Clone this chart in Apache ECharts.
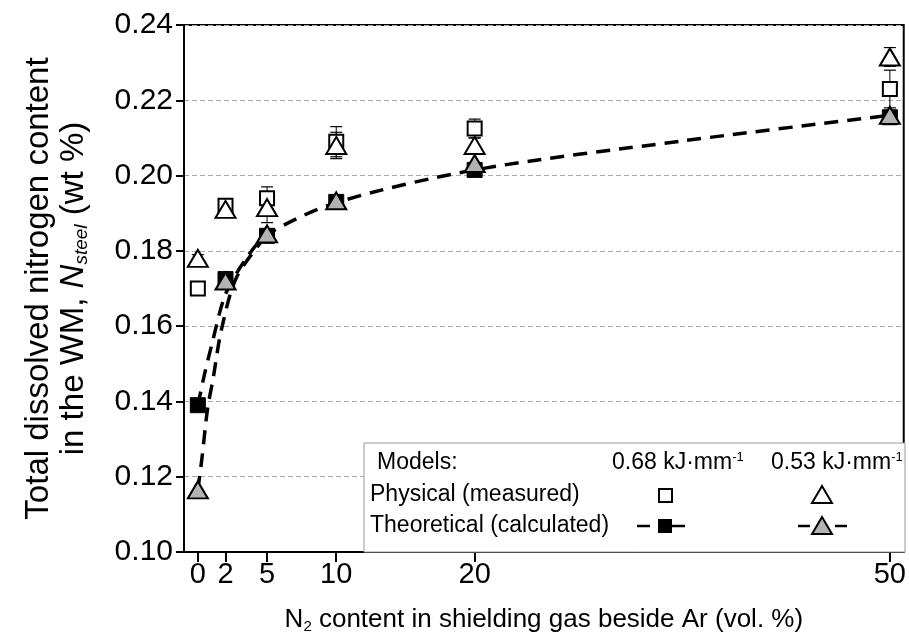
<!DOCTYPE html>
<html>
<head>
<meta charset="utf-8">
<script src="https://cdn.jsdelivr.net/npm/echarts@6/dist/echarts.min.js"></script>
<style>html,body{margin:0;padding:0;background:#fff}#c{width:909px;height:641px}</style>
</head>
<body>
<div id="c"></div>
<script>
// ---- data ----
var xValues = [0, 2, 5, 10, 20, 50];
var xTicks = [0, 2, 5, 10, 20, 50];
var yTicks = [0.10, 0.12, 0.14, 0.16, 0.18, 0.20, 0.22, 0.24];
var physical068 = [0.170, 0.192, 0.194, 0.209, 0.2125, 0.223];
var physical068Err = [0.0008, 0.0008, 0.003, 0.004, 0.0025, 0.005];
var physical053 = [0.178, 0.191, 0.1915, 0.208, 0.208, 0.2315];
var physical053Err = [0.001, 0.001, 0.004, 0.0035, 0.002, 0.0025];
var theoretical068 = [0.139, 0.1725, 0.184, 0.193, 0.2015, 0.2155];
var theoretical053 = [0.1165, 0.172, 0.1845, 0.1933, 0.2032, 0.216];
// dashed fit curves
var curve068X = [0, 0.5, 1, 2, 3.5, 5, 10, 20, 35, 50];
var curve068Y = [0.139, 0.1475, 0.155, 0.1685, 0.178, 0.1843, 0.1928, 0.2015, 0.2092, 0.216];
var curve053X = [0, 0.3, 0.7, 1.1, 1.7, 2.8, 5];
var curve053Y = [0.1165, 0.125, 0.138, 0.146, 0.159, 0.173, 0.1843];

function zip(xs, ys) { return xs.map(function (x, i) { return [x, ys[i]]; }); }
function errData(ys, es) { return xValues.map(function (x, i) { return [x, ys[i] - es[i], ys[i] + es[i]]; }); }

var FONT = 'Liberation Sans, Arial, sans-serif';
var chart = echarts.init(document.getElementById('c'), null, { renderer: 'canvas' });

function errSeries(data) {
  return {
    type: 'custom',
    z: 2,
    silent: true,
    renderItem: function (params, api) {
      var x = api.value(0);
      var lo = api.coord([x, api.value(1)]);
      var hi = api.coord([x, api.value(2)]);
      var w = 6;
      return {
        type: 'group',
        children: [
          { type: 'line', shape: { x1: lo[0], y1: lo[1], x2: hi[0], y2: hi[1] }, style: { stroke: '#000', lineWidth: 1 } },
          { type: 'line', shape: { x1: lo[0] - w, y1: lo[1], x2: lo[0] + w, y2: lo[1] }, style: { stroke: '#000', lineWidth: 1.2 } },
          { type: 'line', shape: { x1: hi[0] - w, y1: hi[1], x2: hi[0] + w, y2: hi[1] }, style: { stroke: '#000', lineWidth: 1.2 } }
        ]
      };
    },
    encode: { x: 0, y: [1, 2] },
    data: data
  };
}

var lx = 364, ly = 443, lw = 541, lh = 109;
var legendFont = 23;
function lt(x, y, text, align) {
  return {
    type: 'text', x: x, y: y, z: 101,
    style: {
      text: text, fontFamily: FONT, fontSize: legendFont, fill: '#000',
      align: align || 'left', verticalAlign: 'middle',
      rich: { sup: { fontSize: 13, fontFamily: FONT, verticalAlign: 'top', padding: [0, 0, 12, 0] } }
    }
  };
}
function dash(x1, x2, y) {
  return { type: 'line', z: 101, shape: { x1: x1, y1: y, x2: x2, y2: y }, style: { stroke: '#000', lineWidth: 2.5 } };
}

var option = {
  animation: false,
  backgroundColor: '#fff',
  grid: { left: 184, right: 4, top: 25, bottom: 89, show: true, borderColor: '#000', borderWidth: 2, containLabel: false },
  xAxis: {
    type: 'value', min: -1, max: 51,
    name: '{n|N}{s|2} content in shielding gas beside Ar (vol. %)',
    nameLocation: 'middle', nameGap: 53,
    nameTextStyle: {
      fontFamily: FONT, fontSize: 26, color: '#000',
      rich: { n: { fontFamily: FONT, fontSize: 26 }, s: { fontFamily: FONT, fontSize: 15, verticalAlign: 'bottom', padding: [14, 0, 0, 0] } }
    },
    axisLine: { onZero: false, lineStyle: { color: '#000', width: 2 } },
    axisTick: { show: true, inside: false, length: 10, lineStyle: { color: '#000', width: 2 }, customValues: xTicks },
    axisLabel: { customValues: xTicks, fontFamily: FONT, fontSize: 29, color: '#000', margin: 8 },
    splitLine: { show: false }
  },
  yAxis: {
    type: 'value', min: 0.10, max: 0.24, interval: 0.02,
    name: 'Total dissolved nitrogen content\nin the WM, {i|N}{sub|steel} (wt %)',
    nameLocation: 'middle', nameRotate: 90, nameGap: 93,
    nameTextStyle: {
      fontFamily: FONT, fontSize: 33, color: '#000', lineHeight: 35, align: 'center',
      rich: {
        i: { fontFamily: FONT, fontSize: 33, fontStyle: 'italic', lineHeight: 35 },
        sub: { fontFamily: FONT, fontSize: 19, fontStyle: 'italic', verticalAlign: 'bottom', lineHeight: 35, padding: [16, 0, 0, 0] }
      }
    },
    axisLine: { onZero: false, lineStyle: { color: '#000', width: 2 } },
    axisTick: { show: true, inside: false, length: 8, lineStyle: { color: '#000', width: 2 } },
    axisLabel: { fontFamily: FONT, fontSize: 30, color: '#000', margin: 11, formatter: function (v) { return v.toFixed(2); } },
    splitLine: { show: true, lineStyle: { color: '#aaa', width: 1, type: [5, 3] } }
  },
  series: [
    errSeries(errData(physical068, physical068Err)),
    errSeries(errData(physical053, physical053Err)),
    {
      type: 'scatter', name: 'Physical 0.68', z: 3, symbol: 'rect', symbolSize: 14,
      itemStyle: { color: '#fff', borderColor: '#000', borderWidth: 2, opacity: 1 },
      data: zip(xValues, physical068)
    },
    {
      type: 'scatter', name: 'Physical 0.53', z: 4, symbol: 'triangle', symbolSize: [20, 17],
      itemStyle: { color: '#fff', borderColor: '#000', borderWidth: 2, opacity: 1 },
      data: zip(xValues, physical053)
    },
    {
      type: 'line', name: 'Fit 0.68', z: 5, smooth: 0.3, showSymbol: false, symbol: 'none',
      lineStyle: { color: '#000', width: 3.5, type: [14, 9] },
      data: zip(curve068X, curve068Y)
    },
    {
      type: 'line', name: 'Fit 0.53', z: 5, smooth: 0.3, showSymbol: false, symbol: 'none',
      lineStyle: { color: '#000', width: 3.5, type: [14, 9] },
      data: zip(curve053X, curve053Y)
    },
    {
      type: 'scatter', name: 'Theoretical 0.68', z: 6, symbol: 'rect', symbolSize: 15,
      itemStyle: { color: '#000', borderColor: '#000', borderWidth: 1, opacity: 1 },
      data: zip(xValues, theoretical068)
    },
    {
      type: 'scatter', name: 'Theoretical 0.53', z: 7, symbol: 'triangle', symbolSize: [20, 17],
      itemStyle: { color: '#b3b3b3', borderColor: '#000', borderWidth: 2, opacity: 1 },
      data: zip(xValues, theoretical053)
    }
  ],
  graphic: [
    { type: 'rect', z: 100, shape: { x: lx, y: ly, width: lw, height: lh }, style: { fill: '#fff', stroke: '#999', lineWidth: 1 } },
    lt(377, 463, 'Models:'),
    lt(612, 463, '0.68 kJ·mm{sup|-1}'),
    lt(771, 463, '0.53 kJ·mm{sup|-1}'),
    lt(370, 495, 'Physical (measured)'),
    lt(370, 526, 'Theoretical (calculated)'),
    { type: 'rect', z: 101, shape: { x: 659, y: 489, width: 13, height: 13 }, style: { fill: '#fff', stroke: '#000', lineWidth: 2 } },
    { type: 'polygon', z: 101, shape: { points: [[822, 486], [832, 503], [812, 503]] }, style: { fill: '#fff', stroke: '#000', lineWidth: 2 } },
    dash(637, 650, 526), dash(672, 685, 526),
    { type: 'rect', z: 101, shape: { x: 658, y: 519, width: 14, height: 14 }, style: { fill: '#000' } },
    dash(798, 810, 526), dash(835, 847, 526),
    { type: 'polygon', z: 101, shape: { points: [[822, 517], [832, 534], [812, 534]] }, style: { fill: '#b3b3b3', stroke: '#000', lineWidth: 2 } }
  ]
};
chart.setOption(option);
</script>
</body>
</html>
